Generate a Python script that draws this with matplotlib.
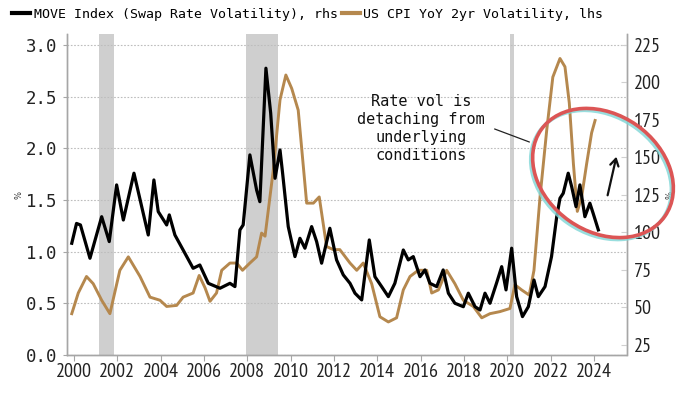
import matplotlib
matplotlib.use("Agg")
import matplotlib.pyplot as plt
import matplotlib.patches as mpatches
import matplotlib.transforms as mtransforms
from matplotlib.lines import Line2D

# ---- data ----
move_years = [1999.9, 2000.12, 2000.3, 2000.74, 2001.28, 2001.63, 2001.97, 2002.28, 2002.77, 2003.43,
              2003.69, 2003.89, 2004.28, 2004.4, 2004.66, 2005.04, 2005.5, 2005.81, 2006.2, 2006.74,
              2007.2, 2007.43, 2007.66, 2007.81, 2008.12, 2008.43, 2008.58, 2008.86, 2009.08, 2009.28,
              2009.51, 2009.63, 2009.89, 2010.2, 2010.43, 2010.66, 2010.97, 2011.2, 2011.43, 2011.81,
              2012.12, 2012.43, 2012.74, 2012.97, 2013.28, 2013.63, 2013.89, 2014.2, 2014.51, 2014.81,
              2015.2, 2015.43, 2015.66, 2015.97, 2016.2, 2016.43, 2016.74, 2017.04, 2017.28, 2017.58,
              2017.97, 2018.2, 2018.51, 2018.74, 2018.97, 2019.2, 2019.5, 2019.74, 2019.94, 2020.2,
              2020.43, 2020.7, 2020.97, 2021.23, 2021.43, 2021.74, 2022.04, 2022.28, 2022.43, 2022.58,
              2022.81, 2022.97, 2023.17, 2023.35, 2023.58, 2023.81, 2023.96, 2024.2]
move_values = [92.8, 106, 105, 82.8, 110.5, 93.9, 131.7, 108.3, 139.5, 98.3,
               135, 113.9, 105, 111.7, 98.3, 88.3, 76.1, 78.3, 66.1, 62.8,
               66.1, 63.9, 101.7, 105, 151.7, 128.3, 120.5, 209.5, 179.5, 136.1,
               155, 139.5, 103.9, 83.9, 96.1, 89.5, 103.9, 93.9, 79.5, 102.8,
               81.7, 71.7, 66.1, 59.5, 55, 95, 70.5, 63.9, 57.2, 66.1,
               88.3, 81.7, 83.9, 70.5, 75, 66.1, 63.9, 75, 59.5, 52.8,
               50.5, 59.5, 50.5, 48.3, 59.5, 52.8, 66.1, 77.2, 61.7, 89.5,
               57.2, 43.9, 50.5, 68.3, 57.2, 63.9, 83.9, 110.5, 122.8, 126.1,
               139.5, 130.5, 117.2, 131.7, 110.5, 119.5, 112.8, 101.7]

cpi_years = [1999.9, 2000.2, 2000.58, 2000.89, 2001.28, 2001.66, 2002.12, 2002.51, 2003.05, 2003.51,
             2003.97, 2004.28, 2004.74, 2005.04, 2005.5, 2005.78, 2006.05, 2006.28, 2006.58, 2006.82,
             2007.2, 2007.51, 2007.78, 2008.12, 2008.43, 2008.66, 2008.82, 2009.2, 2009.51, 2009.78,
             2010.05, 2010.35, 2010.74, 2011.05, 2011.32, 2011.66, 2011.97, 2012.27, 2012.74, 2013.05,
             2013.35, 2013.74, 2014.12, 2014.51, 2014.89, 2015.2, 2015.51, 2015.89, 2016.28, 2016.51,
             2016.82, 2017.2, 2017.58, 2017.97, 2018.43, 2018.82, 2019.2, 2019.66, 2020.12, 2020.35,
             2020.66, 2021.01, 2021.23, 2021.51, 2021.82, 2022.1, 2022.43, 2022.66, 2022.86, 2023.05,
             2023.23, 2023.43, 2023.66, 2023.89, 2024.05]
cpi_values = [0.40, 0.60, 0.76, 0.69, 0.53, 0.40, 0.82, 0.95, 0.76, 0.56,
              0.53, 0.47, 0.48, 0.56, 0.60, 0.77, 0.65, 0.52, 0.60, 0.82,
              0.89, 0.89, 0.82, 0.89, 0.95, 1.18, 1.15, 1.79, 2.47, 2.71,
              2.58, 2.37, 1.47, 1.47, 1.53, 1.05, 1.02, 1.02, 0.89, 0.82,
              0.89, 0.69, 0.37, 0.32, 0.36, 0.63, 0.76, 0.82, 0.82, 0.60,
              0.63, 0.82, 0.69, 0.53, 0.47, 0.36, 0.40, 0.42, 0.45, 0.68,
              0.63, 0.58, 0.82, 1.53, 2.18, 2.69, 2.87, 2.79, 2.44, 1.85,
              1.39, 1.53, 1.85, 2.15, 2.27]

recession_starts = [2001.17, 2007.92, 2020.13]
recession_ends = [2001.83, 2009.42, 2020.3]

left_ticks = [0.0, 0.5, 1.0, 1.5, 2.0, 2.5, 3.0]
right_ticks = [25, 50, 75, 100, 125, 150, 175, 200, 225]
x_ticks = list(range(2000, 2025, 2))

legend_labels = ["MOVE Index (Swap Rate Volatility), rhs", "US CPI YoY 2yr Volatility, lhs"]
annotation_text = "Rate vol is\ndetaching from\nunderlying\nconditions"

# ---- style ----
GOLD = "#b5884e"
BLACK = "#000000"
GRAY = "#a6a6a6"
narrow = ["PT Sans Narrow", "DejaVu Sans"]
mono = ["DejaVu Sans Mono"]

W, H = 700, 394
fig = plt.figure(figsize=(W / 100, H / 100), dpi=100)
ax = fig.add_axes([67 / W, 1 - 355 / H, (626.5 - 67) / W, (355 - 34) / H])
ax2 = ax.twinx()

for s, e in zip(recession_starts, recession_ends):
    ax.axvspan(s, e, color="#cfcfcf", lw=0, zorder=0)

ax.plot(cpi_years, cpi_values, color=GOLD, lw=2.1, zorder=3, solid_joinstyle="round")
ax2.plot(move_years, move_values, color=BLACK, lw=2.3, zorder=3, solid_joinstyle="round")

ax.set_xlim(1999.68, 2025.5)
ax.set_ylim(0, 3.107)
ax2.set_ylim(18.3, 232.3)

ax.set_yticks(left_ticks)
ax.set_yticklabels([f"{t:.1f}" for t in left_ticks], fontfamily=mono, fontsize=12.5, color="#222222")
ax2.set_yticks(right_ticks)
ax2.set_yticklabels([str(t) for t in right_ticks], fontfamily=narrow, fontsize=14.5, color="#222222")
ax.set_xticks(x_ticks)
ax.set_xticklabels([str(t) for t in x_ticks], fontfamily=narrow, fontsize=14.5, color="#222222")

ax.yaxis.grid(True, color="#bdbdbd", ls=(0, (1.5, 1.5)), lw=0.8)
ax.set_axisbelow(True)

for a in (ax, ax2):
    a.spines["top"].set_visible(False)
    for sp in ("left", "right", "bottom"):
        a.spines[sp].set_color(GRAY)
        a.spines[sp].set_linewidth(1.0)
ax.tick_params(axis="y", length=3, color=GRAY, pad=4)
ax.tick_params(axis="x", length=4, color=GRAY, pad=2)
ax2.tick_params(axis="y", direction="in", length=4, color="#d0d0d0", pad=5)

# small % labels
fig.text(19 / W, 1 - 195 / H, "%", rotation=90, fontsize=6, ha="center", va="center", color="#333333")
fig.text(670 / W, 1 - 195 / H, "%", rotation=90, fontsize=6, ha="center", va="center", color="#333333")

# legend
handles = [Line2D([], [], color=BLACK, lw=3), Line2D([], [], color=GOLD, lw=3)]
fig.legend(handles, legend_labels, loc="center left", bbox_to_anchor=(12 / W, 1 - 14.5 / H), ncol=2,
           frameon=False, handlelength=1.35, handletextpad=0.3, columnspacing=0.3,
           prop={"family": mono, "size": 9.5}, borderaxespad=0.0, borderpad=0.0)

# annotation text and connector
fig.text(421 / W, 1 - 129 / H, annotation_text, fontfamily=mono, fontsize=11,
         ha="center", va="center", linespacing=1.25, color="#111111")
ax.annotate("", xy=(532, H - 143), xytext=(492, H - 128), xycoords="figure pixels",
            textcoords="figure pixels", arrowprops=dict(arrowstyle="-", color="#222222", lw=0.9))

# ellipse (pixel coordinates)
pix = mtransforms.Affine2D().scale(1 / W, 1 / H) + fig.transFigure
shadow = mpatches.Ellipse((601, H - 175), 151, 117, angle=-35, fill=False, ec="#7fd6d6",
                          lw=2.5, transform=pix, zorder=9, alpha=0.8)
fig.add_artist(shadow)
ell = mpatches.Ellipse((603, H - 173), 151, 117, angle=-35, fill=False, ec="#dc5555",
                       lw=2.6, transform=pix, zorder=10)
fig.add_artist(ell)

# arrow
ax.annotate("", xy=(617, H - 154), xytext=(607, H - 198), xycoords="figure pixels",
            textcoords="figure pixels",
            arrowprops=dict(arrowstyle="->,head_length=0.5,head_width=0.3", color="#111111", lw=1.6))

fig.savefig("out.png", dpi=100)
